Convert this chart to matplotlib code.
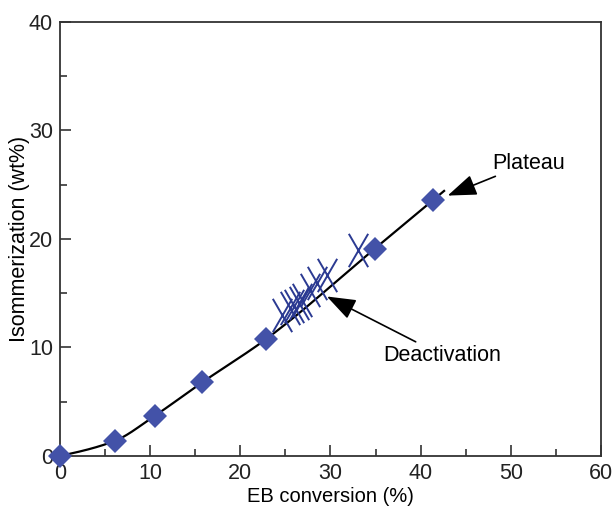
import matplotlib
matplotlib.use("Agg")
import matplotlib.pyplot as plt
from matplotlib.path import Path
from matplotlib.ticker import MultipleLocator
import numpy as np

plt.rcParams['font.family'] = ['Liberation Sans', 'DejaVu Sans']

# diamonds: EB conversion vs isomerization
conv = [0.0, 6.1, 10.5, 15.8, 22.9, 34.9, 41.4]
isom = [0.0, 1.4, 3.7, 6.8, 10.8, 19.1, 23.6]

# X markers (deactivation runs)
deact_conv = [24.6, 25.5, 25.9, 26.5, 26.8, 27.7, 28.5, 29.6, 33.0]
deact_isom = [13.0, 13.6, 13.8, 14.1, 14.4, 15.3, 15.9, 16.7, 19.0]

DIAMOND_COLOR = '#4352a8'
CROSS_COLOR = '#2b3a92'
AXIS_COLOR = '#333333'


def pchip(x, y, xs):
    # monotone cubic hermite through the diamonds (smooth guide line)
    x = np.asarray(x, float)
    y = np.asarray(y, float)
    h = np.diff(x)
    d = np.diff(y) / h
    m = np.zeros_like(y)
    for k in range(1, len(x) - 1):
        if d[k - 1] * d[k] > 0:
            w1 = 2 * h[k] + h[k - 1]
            w2 = h[k] + 2 * h[k - 1]
            m[k] = (w1 + w2) / (w1 / d[k - 1] + w2 / d[k])
    m[0] = d[0] * 0.8
    m[-1] = d[-1]
    out = np.empty_like(xs)
    for i, xv in enumerate(xs):
        if xv >= x[-1]:
            out[i] = y[-1] + m[-1] * (xv - x[-1])
            continue
        k = min(np.searchsorted(x, xv, side='right') - 1, len(x) - 2)
        t = (xv - x[k]) / h[k]
        h00 = 2 * t**3 - 3 * t**2 + 1
        h10 = t**3 - 2 * t**2 + t
        h01 = -2 * t**3 + 3 * t**2
        h11 = t**3 - t**2
        out[i] = h00 * y[k] + h10 * h[k] * m[k] + h01 * y[k + 1] + h11 * h[k] * m[k + 1]
    return out


# tall narrow cross marker
cross = Path([(-0.58, -1), (0.58, 1), (-0.58, 1), (0.58, -1)],
             [Path.MOVETO, Path.LINETO, Path.MOVETO, Path.LINETO])

fig = plt.figure(figsize=(6.16, 5.08), dpi=100)
ax = fig.add_axes([0.0974, 0.1024, 0.8782, 0.8543])

xs = np.linspace(0, 42.6, 300)
ax.plot(xs, pchip(conv, isom, xs), color='black', lw=1.6, zorder=2)

ax.plot(deact_conv, deact_isom, linestyle='none', marker=cross,
        markersize=24, markeredgewidth=1.4, color=CROSS_COLOR, zorder=3)
ax.plot(conv, isom, linestyle='none', marker='D', markersize=11.8,
        color=DIAMOND_COLOR, markeredgewidth=0, zorder=4, clip_on=False)

arrow = dict(arrowstyle='-|>,head_length=1.15,head_width=0.42', color='black',
             lw=1.2, shrinkA=0, shrinkB=0)
ax.annotate('Plateau', xy=(43.0, 24.0), xytext=(47.9, 27.0),
            fontsize=15.5, va='center', ha='left', arrowprops=arrow)
ax.annotate('Deactivation', xy=(29.6, 14.7), xytext=(35.8, 9.3),
            fontsize=15.5, va='center', ha='left', arrowprops=arrow)

ax.set_xlim(0, 60)
ax.set_ylim(0, 40)
ax.xaxis.set_major_locator(MultipleLocator(10))
ax.xaxis.set_minor_locator(MultipleLocator(5))
ax.yaxis.set_major_locator(MultipleLocator(10))
ax.yaxis.set_minor_locator(MultipleLocator(5))
ax.tick_params(which='both', direction='in', top=False, right=False,
               colors=AXIS_COLOR, labelcolor='#222222', labelsize=15.5, width=1.2)
ax.tick_params(which='major', length=8, pad=5)
ax.tick_params(which='minor', length=5)
for s in ax.spines.values():
    s.set_color(AXIS_COLOR)
    s.set_linewidth(1.3)

ax.set_xlabel('EB conversion (%)', fontsize=14.5, labelpad=2)
ax.set_ylabel('Isommerization (wt%)', fontsize=15.5, labelpad=-1)

fig.savefig('out.png', dpi=100)
